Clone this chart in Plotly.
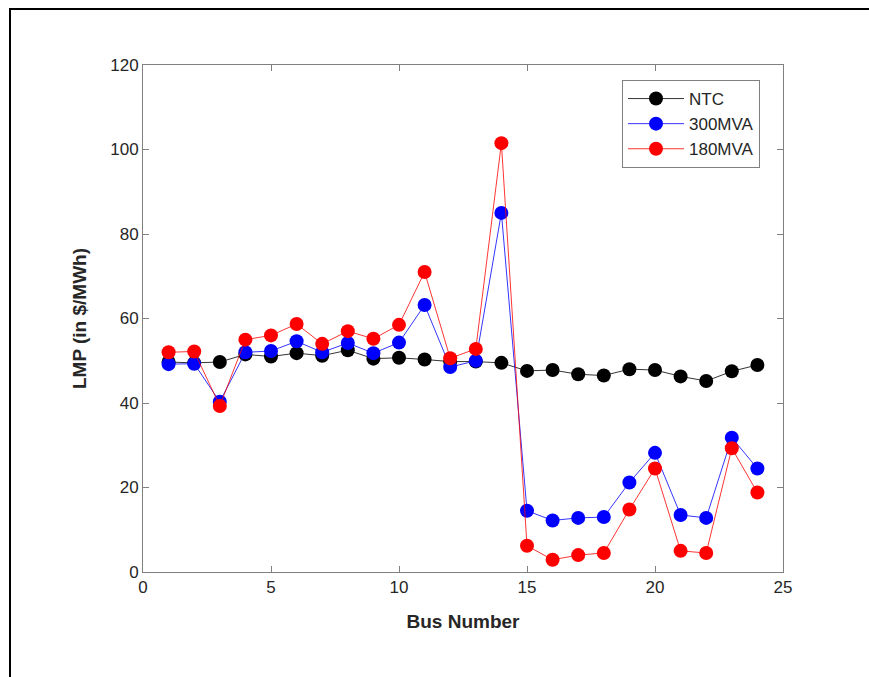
import plotly.graph_objects as go

bus = list(range(1, 25))
ntc = [49.7, 49.5, 49.7, 51.5, 51.0, 51.8, 51.2, 52.5, 50.5, 50.7, 50.3, 49.8,
       49.8, 49.5, 47.6, 47.8, 46.8, 46.5, 48.0, 47.8, 46.3, 45.2, 47.5, 49.0]
mva300 = [49.2, 49.3, 40.3, 52.0, 52.3, 54.6, 52.0, 54.2, 51.8, 54.3, 63.2, 48.5,
          50.0, 85.0, 14.5, 12.2, 12.8, 13.0, 21.2, 28.2, 13.5, 12.8, 31.8, 24.5]
mva180 = [52.0, 52.2, 39.3, 55.0, 56.0, 58.7, 54.0, 57.0, 55.2, 58.5, 71.0, 50.6,
          52.8, 101.5, 6.2, 2.9, 4.0, 4.5, 14.8, 24.5, 5.0, 4.5, 29.3, 18.8]

series = [("NTC", ntc, "#000000"), ("300MVA", mva300, "#0000ff"), ("180MVA", mva180, "#ff0000")]

x_ticks = [0, 5, 10, 15, 20, 25]
y_ticks = [0, 20, 40, 60, 80, 100, 120]

fig = go.Figure()
for name, vals, col in series:
    fig.add_trace(go.Scatter(
        x=bus, y=vals, name=name, mode="lines+markers",
        line=dict(color=col, width=0.8),
        marker=dict(color=col, size=14, line=dict(width=0)),
    ))

W, H = 869, 677
L, R, T, B = 143, 783, 65, 572

axis_common = dict(
    showgrid=False, zeroline=False, showline=True, linecolor="#808080", linewidth=1,
    mirror="ticks", ticks="inside", ticklen=6, tickcolor="#808080",
    tickfont=dict(family="Liberation Sans, Arial", size=17, color="#262626"),
)

fig.update_layout(
    width=W, height=H,
    margin=dict(l=L, r=W - R, t=T, b=H - B, pad=0),
    paper_bgcolor="white", plot_bgcolor="white",
    xaxis=dict(range=[0, 25], tickvals=x_ticks, **axis_common,
               title=dict(text="<b>Bus Number</b>", standoff=18,
                          font=dict(family="Liberation Sans, Arial", size=19, color="#262626"))),
    yaxis=dict(range=[0, 120], tickvals=y_ticks, **axis_common,
               title=dict(text="<b>LMP (in $/MWh)</b>", standoff=18,
                          font=dict(family="Liberation Sans, Arial", size=19, color="#262626"))),
    legend=dict(x=(622 - L) / (R - L), y=(B - 80) / (B - T), xanchor="left", yanchor="top",
                bgcolor="white", bordercolor="#808080", borderwidth=1,
                font=dict(family="Liberation Sans, Arial", size=17, color="#262626"),
                itemwidth=56, tracegroupgap=0),
    showlegend=True,
)

# outer frame (top and left edges visible)
def px_x(p):
    return (p - L) / (R - L)

def px_y(p):
    return (B - p) / (B - T)

fig.add_shape(type="line", xref="paper", yref="paper",
              x0=px_x(9), x1=px_x(875), y0=px_y(9), y1=px_y(9),
              line=dict(color="black", width=2))
fig.add_shape(type="line", xref="paper", yref="paper",
              x0=px_x(10), x1=px_x(10), y0=px_y(8), y1=px_y(690),
              line=dict(color="black", width=2))

fig.write_html("out.html")
